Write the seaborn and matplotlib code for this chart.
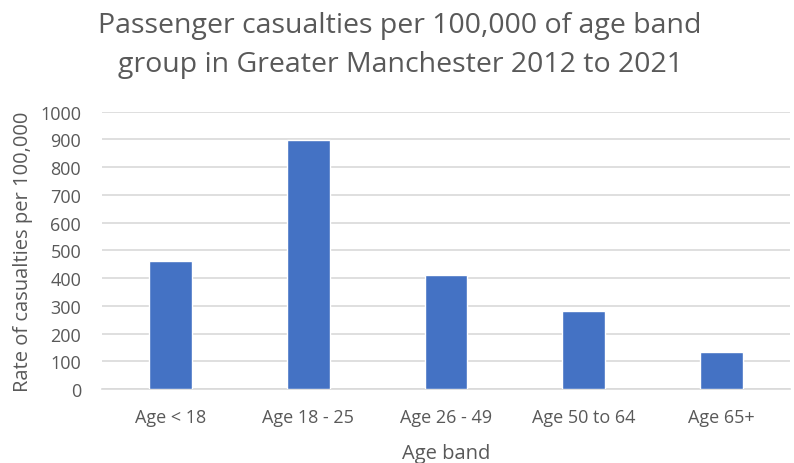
import matplotlib
matplotlib.use("Agg")
import matplotlib.pyplot as plt
import seaborn as sns
import pandas as pd

# Passenger casualty rates by age band, Greater Manchester 2012-2021
age_bands = ["Age < 18", "Age 18 - 25", "Age 26 - 49", "Age 50 to 64", "Age 65+"]
rates = [461, 899, 411, 282, 134]
y_ticks = [0, 100, 200, 300, 400, 500, 600, 700, 800, 900, 1000]
title_lines = ["Passenger casualties per 100,000 of age band",
               "group in Greater Manchester 2012 to 2021"]

sns.set_theme(style="white")
plt.rcParams["font.family"] = ["Open Sans", "DejaVu Sans"]

text_grey = "#595959"
bar_blue = "#4472C4"
grid_grey = "#D9D9D9"

df = pd.DataFrame({"band": age_bands, "rate": rates})

W, H = 794, 464
fig = plt.figure(figsize=(W / 100, H / 100), dpi=100)
ax = fig.add_axes([102 / W, 1 - 390 / H, 688 / W, (390 - 112.7) / H])

sns.barplot(data=df, x="band", y="rate", color=bar_blue, width=0.31,
            saturation=1, ax=ax, zorder=3)

ax.set_ylim(0, 1000)
ax.set_yticks(y_ticks)
ax.set_xlim(-0.5, len(age_bands) - 0.5)
ax.yaxis.grid(True, color=grid_grey, linewidth=1.2, zorder=0)
ax.xaxis.grid(False)
for side in ["top", "right", "left"]:
    ax.spines[side].set_visible(False)
ax.spines["bottom"].set_color(grid_grey)
ax.spines["bottom"].set_linewidth(1.2)

ax.tick_params(axis="both", length=0, labelsize=13, colors=text_grey)
ax.tick_params(axis="y", pad=15)
ax.tick_params(axis="x", pad=14)

ax.set_xlabel("Age band", fontsize=14.5, color=text_grey)
ax.set_ylabel("Rate of casualties per 100,000", fontsize=14.5, color=text_grey)
ax.xaxis.set_label_coords(0.5, -0.195)
ax.yaxis.set_label_coords(-0.10, 0.5)

# Two-line chart title, each line placed on its own baseline
for line, base_px in zip(title_lines, [33, 72]):
    fig.text(400 / W, 1 - base_px / H, line, ha="center", va="baseline",
             fontsize=20.5, color=text_grey)

fig.savefig("out.png", dpi=100)
